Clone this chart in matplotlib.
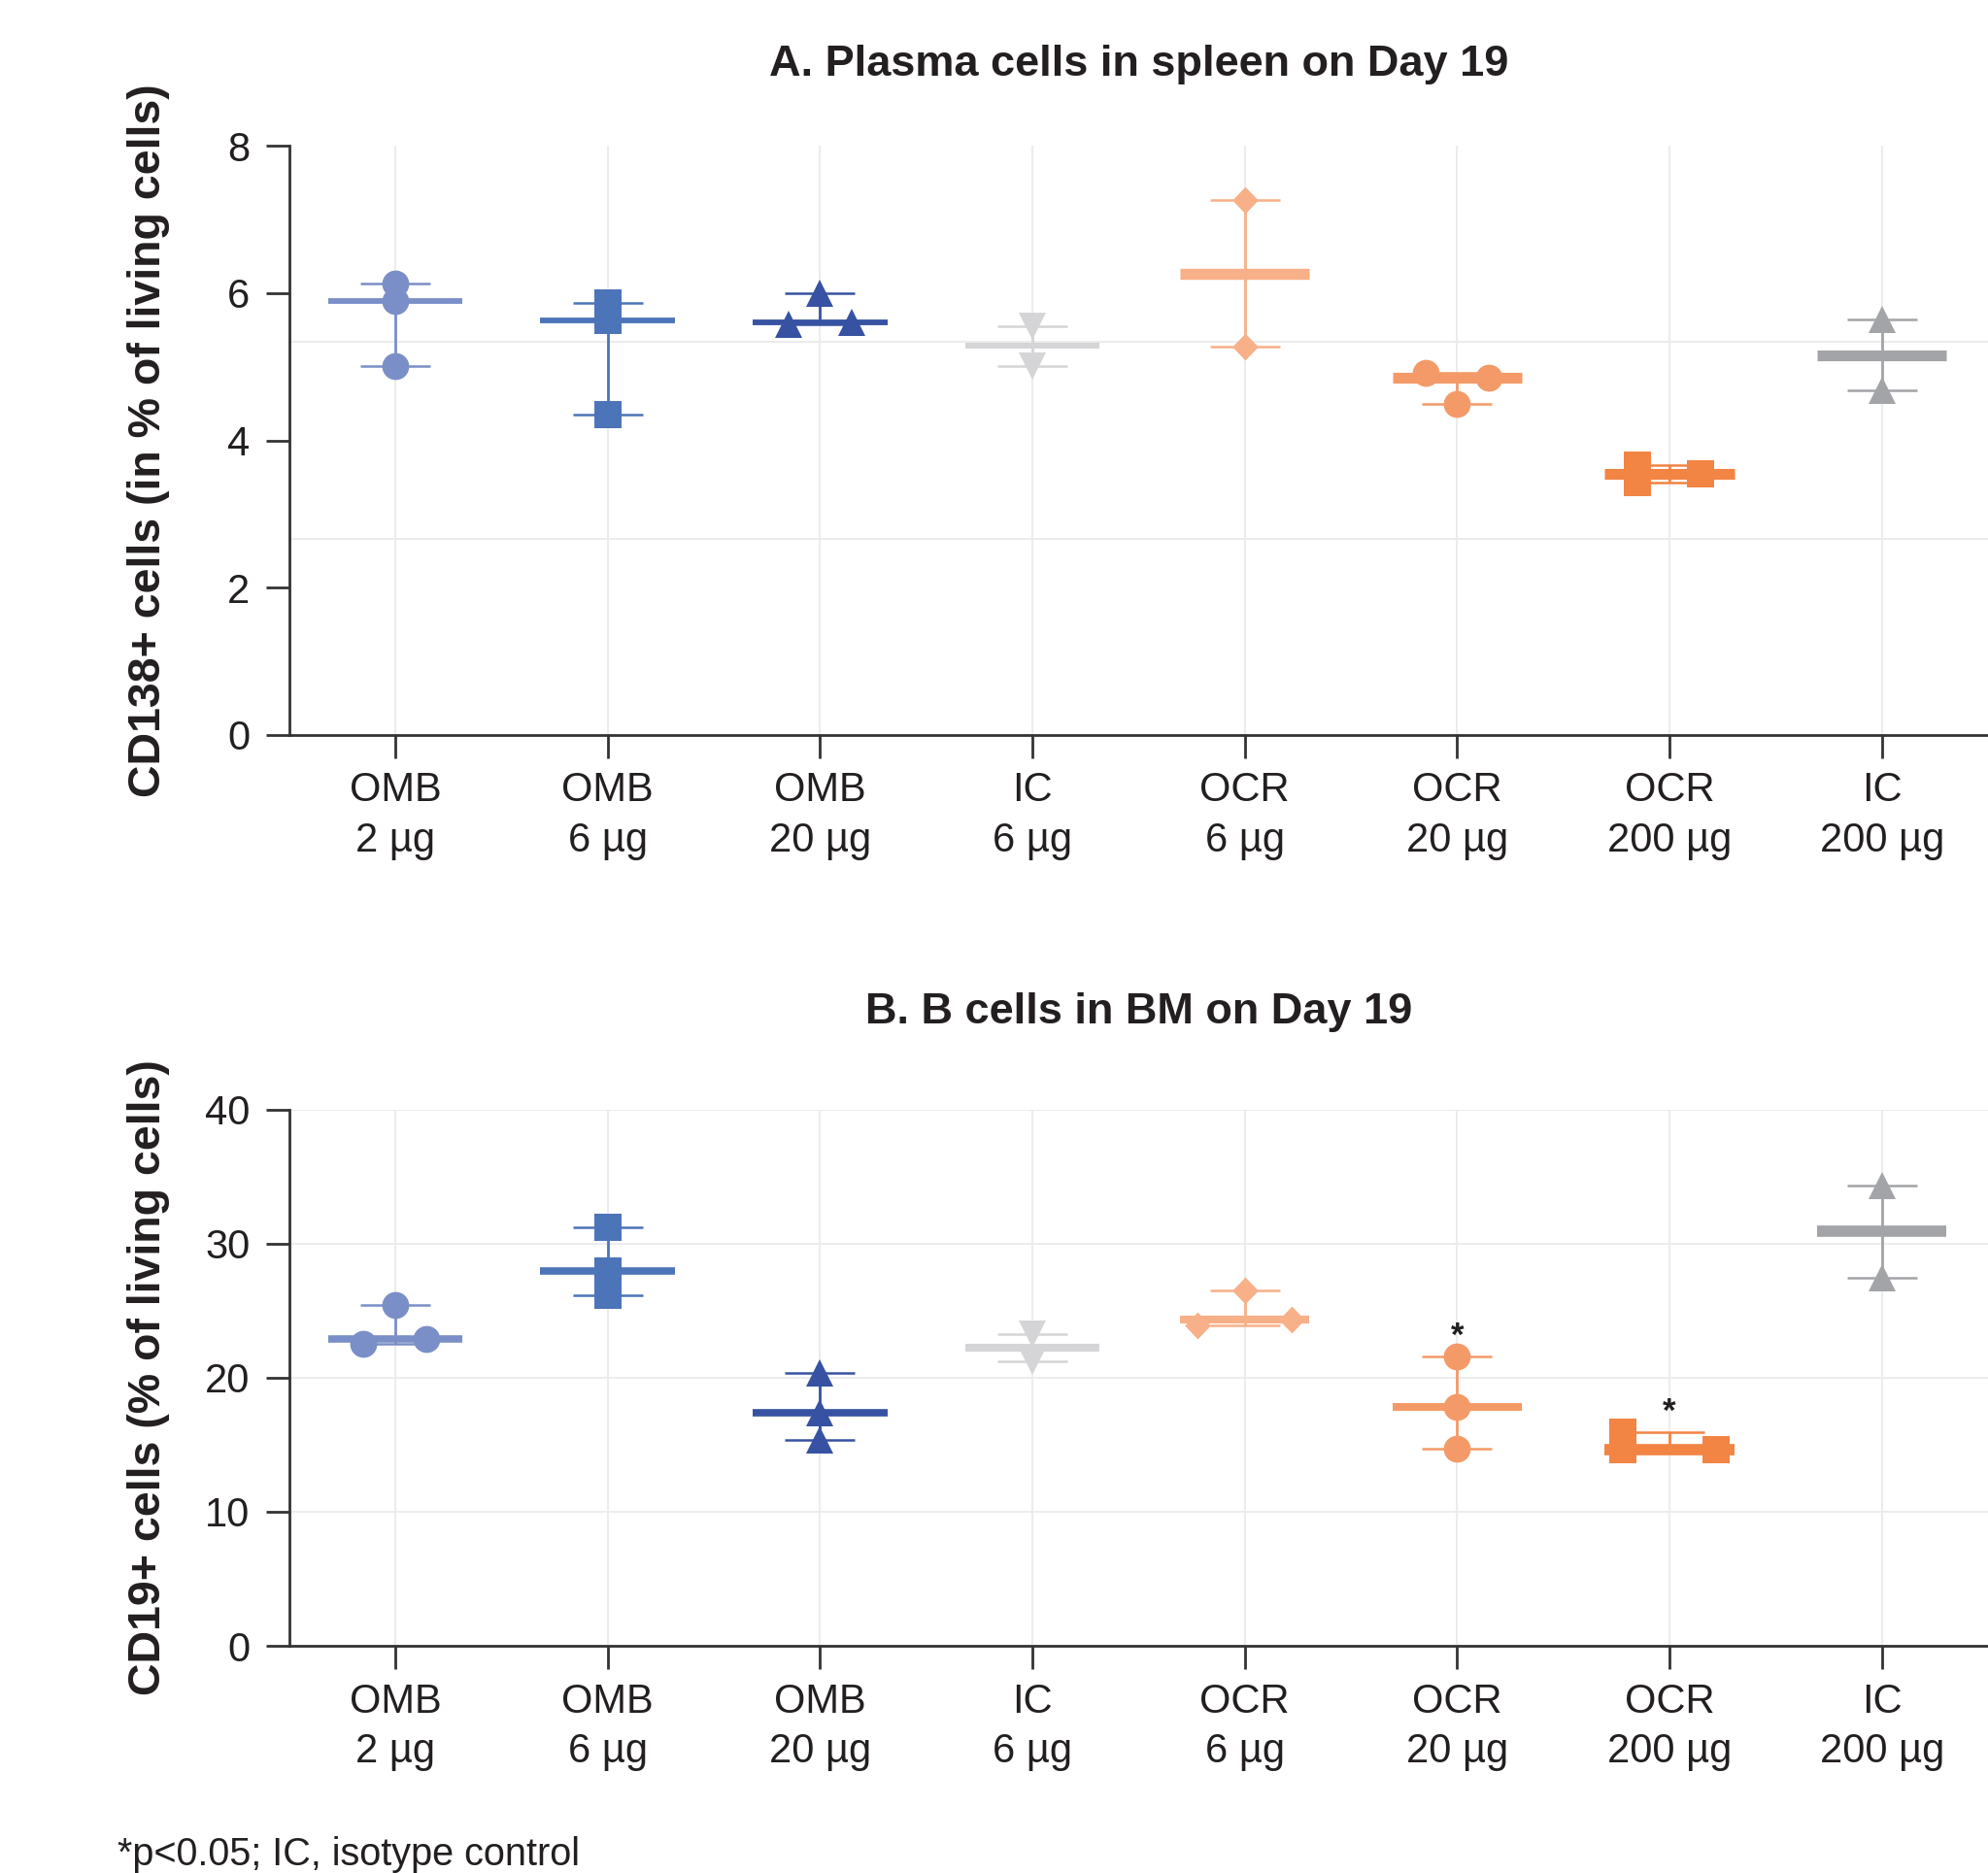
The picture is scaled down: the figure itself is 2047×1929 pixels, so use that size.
import numpy as np
import matplotlib
matplotlib.use("Agg")
import matplotlib.pyplot as plt

plt.rcParams['font.family'] = ['Liberation Sans', 'DejaVu Sans']

# groups along the x axis
labels = ["OMB\n2 µg", "OMB\n6 µg", "OMB\n20 µg", "IC\n6 µg",
          "OCR\n6 µg", "OCR\n20 µg", "OCR\n200 µg", "IC\n200 µg"]

# A. CD138+ plasma cells in spleen (% of living cells), one list per group
spleen_omb2 = [6.13, 5.89, 5.01]
spleen_omb6 = [5.86, 5.63, 4.35]
spleen_omb20 = [6.00, 5.57, 5.60]
spleen_ic6 = [5.55, 5.01]
spleen_ocr6 = [7.26, 5.27]
spleen_ocr20 = [4.92, 4.85, 4.50]
spleen_ocr200 = [3.67, 3.43, 3.54]
spleen_ic200 = [5.64, 4.68]

# B. CD19+ B cells in bone marrow (% of living cells)
bm_omb2 = [25.41, 22.57, 22.92]
bm_omb6 = [31.21, 28.00, 26.14]
bm_omb20 = [20.38, 17.37, 15.34]
bm_ic6 = [23.28, 21.23]
bm_ocr6 = [26.50, 23.91, 24.37]
bm_ocr20 = [21.62, 17.80, 14.71]
bm_ocr200 = [15.96, 14.65, 14.66]
bm_ic200 = [34.37, 27.44]

# p<0.05 flags for panel B
bm_signif = [False, False, False, False, False, True, True, False]

spleen = [spleen_omb2, spleen_omb6, spleen_omb20, spleen_ic6,
          spleen_ocr6, spleen_ocr20, spleen_ocr200, spleen_ic200]
bm = [bm_omb2, bm_omb6, bm_omb20, bm_ic6,
      bm_ocr6, bm_ocr20, bm_ocr200, bm_ic200]

# ---- styling ----
colors = ["#7A8FC7", "#4C74B8", "#3752A2", "#D5D5D7",
          "#F8B088", "#F49A68", "#F28444", "#A3A4A7"]

m_diamond = [(0, 1), (0.96, 0), (0, -1), (-0.96, 0), (0, 1)]
markers = ["o", "s", "^", "v", m_diamond, "o", "s", "^"]
msizes = [20, 19.5, 20, 20, 20, 20, 19.5, 20]

# horizontal spread of overlapping points (swarm layout), in category units
spread_a = [[0, 0, 0], [0, 0, 0], [0, -0.148, 0.148], [0, 0],
            [0, 0], [-0.15, 0.15, 0], [-0.15, -0.15, 0.148], [0, 0]]
spread_b = [[0, -0.15, 0.146], [0, 0, 0], [0, 0, 0], [0, 0],
            [0, -0.224, 0.22], [0, 0, 0], [-0.22, -0.22, 0.22], [0, 0]]

# median bar thickness (pt) and width (category units)
bar_lw_a = [4.2, 4.2, 4.2, 4.3, 8.2, 8.0, 8.0, 8.0]
bar_lw_b = [5.5, 5.5, 5.5, 5.8, 5.8, 5.8, 8.4, 8.4]
bar_w = [0.635, 0.635, 0.635, 0.635, 0.61, 0.61, 0.61, 0.61]
cap_w = 0.33

DPI = 100
fig = plt.figure(figsize=(20.47, 19.29), dpi=DPI)
ax_a = fig.add_axes([0.1454, 0.6076, 0.8546, 0.3146])
ax_b = fig.add_axes([0.1454, 0.1213, 0.8546, 0.2862])

TXT = "#231F20"
SPINE = "#333333"


def draw_panel(ax, data, spread, bar_lw):
    x = np.arange(len(data))
    for i, vals in enumerate(data):
        vals = np.asarray(vals)
        med = np.median(vals)
        lo, hi = vals.min(), vals.max()
        c = colors[i]
        ax.vlines(x[i], lo, hi, color=c, lw=2.0, zorder=3)
        ax.hlines([lo, hi], x[i] - cap_w / 2, x[i] + cap_w / 2, color=c, lw=1.8, zorder=3)
        ax.hlines(med, x[i] - bar_w[i] / 2, x[i] + bar_w[i] / 2, color=c, lw=bar_lw[i], zorder=3)
        ax.plot(x[i] + np.asarray(spread[i]), vals, linestyle="none", marker=markers[i],
                markersize=msizes[i], color=c, markeredgewidth=0, zorder=4)
    ax.set_xlim(-0.5, len(data) - 0.5)
    ax.set_xticks(x)
    ax.set_xticklabels(labels, linespacing=1.38)
    for s in ["top", "right"]:
        ax.spines[s].set_visible(False)
    for s in ["left", "bottom"]:
        ax.spines[s].set_color(SPINE)
        ax.spines[s].set_linewidth(2)
    ax.tick_params(axis="both", which="major", direction="out", length=17, width=2,
                   color=SPINE, labelsize=30, labelcolor=TXT)
    ax.tick_params(axis="x", pad=10)
    ax.tick_params(axis="y", pad=12)
    ax.tick_params(which="minor", length=0)
    ax.grid(axis="x", which="major", color="#EBEBEB", lw=1.3, zorder=0)
    ax.set_axisbelow(True)


draw_panel(ax_a, spleen, spread_a, bar_lw_a)
ax_a.set_ylim(0, 8)
ax_a.set_yticks([0, 2, 4, 6, 8])
ax_a.set_yticks(np.linspace(0, 8, 4), minor=True)
ax_a.grid(axis="y", which="minor", color="#EBEBEB", lw=1.3, zorder=0)
ax_a.set_ylabel("CD138+ cells (in % of living cells)", fontsize=33.5, fontweight="bold", color=TXT)
ax_a.yaxis.set_label_coords(-0.070, 0.5)
ax_a.set_title("A. Plasma cells in spleen on Day 19", fontsize=32.5, fontweight="bold",
               color=TXT, pad=52)

draw_panel(ax_b, bm, spread_b, bar_lw_b)
ax_b.set_ylim(0, 40)
ax_b.set_yticks([0, 10, 20, 30, 40])
ax_b.grid(axis="y", which="major", color="#EBEBEB", lw=1.3, zorder=0)
ax_b.set_ylabel("CD19+ cells (% of living cells)", fontsize=33.5, fontweight="bold", color=TXT)
ax_b.yaxis.set_label_coords(-0.070, 0.5)
ax_b.set_title("B. B cells in BM on Day 19", fontsize=32.5, fontweight="bold",
               color=TXT, pad=64)

for i, flag in enumerate(bm_signif):
    if flag:
        ax_b.annotate("*", xy=(i, max(bm[i])), xytext=(0, 14.5), textcoords="offset points",
                      ha="center", va="center", fontsize=25, fontweight="bold", color=TXT)

fig.text(121 / 2047, 8 / 1929, "*p<0.05; IC, isotype control", fontsize=28.5,
         color=TXT, ha="left", va="baseline")

fig.savefig("out.png", dpi=DPI)
